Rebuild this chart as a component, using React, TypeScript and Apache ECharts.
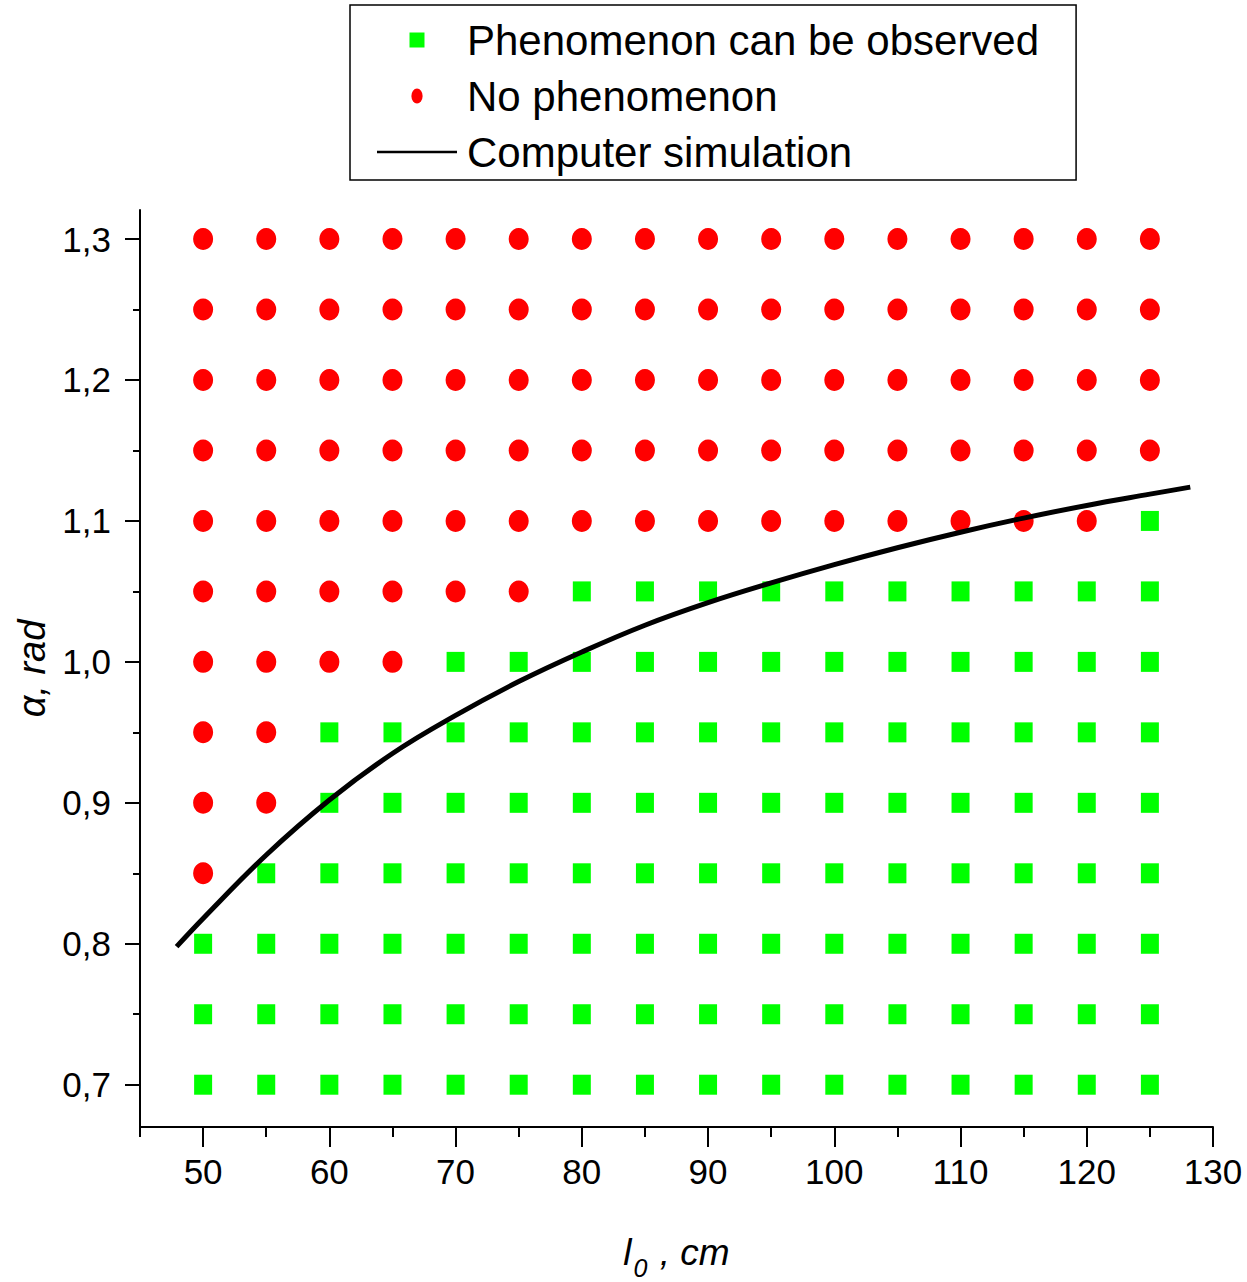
import React, { useEffect, useRef } from "react";
import * as echarts from "echarts";

// l0 values (cm) of the experimental grid
const lengthsCm = [50, 55, 60, 65, 70, 75, 80, 85, 90, 95, 100, 105, 110, 115, 120, 125];
// alpha values (rad) of the experimental grid, bottom to top
const anglesRad = [0.7, 0.75, 0.8, 0.85, 0.9, 0.95, 1.0, 1.05, 1.1, 1.15, 1.2, 1.25, 1.3];
// number of grid rows (from the bottom) where the phenomenon is observed, per column
const observedRowsPerColumn = [3, 4, 6, 6, 7, 7, 8, 8, 8, 8, 8, 8, 8, 8, 8, 9];

// computer simulation curve [l0, alpha]
const simulationCurve: [number, number][] = [
  [47.9, 0.798], [50, 0.818], [55, 0.863], [60, 0.902], [65, 0.935], [70, 0.962],
  [75, 0.986], [80, 1.007], [85, 1.026], [90, 1.042], [95, 1.056], [100, 1.069],
  [105, 1.081], [110, 1.092], [115, 1.102], [120, 1.111], [125, 1.119], [128.2, 1.124],
];

const xMajorTicks = [50, 60, 70, 80, 90, 100, 110, 120, 130];
const xMinorTicks = [45, 55, 65, 75, 85, 95, 105, 115, 125];
const yMajorTicks = [0.7, 0.8, 0.9, 1.0, 1.1, 1.2, 1.3];
const yMinorTicks = [0.75, 0.85, 0.95, 1.05, 1.15, 1.25];

const observed: [number, number][] = [];
const notObserved: [number, number][] = [];
lengthsCm.forEach((l, ci) => {
  anglesRad.forEach((a, ri) => {
    if (ri < observedRowsPerColumn[ci]) observed.push([l, a]);
    else notObserved.push([l, a]);
  });
});

const FONT = "'Liberation Sans', Arial, sans-serif";

export default function App() {
  const ref = useRef<HTMLDivElement>(null);
  useEffect(() => {
    if (!ref.current) return;
    const chart = echarts.init(ref.current, null, { renderer: "svg" });
    const axisLine = { show: true, lineStyle: { color: "#000", width: 2 } };
    chart.setOption({
      animation: false,
      backgroundColor: "#fff",
      textStyle: { fontFamily: FONT },
      grid: { left: 140, right: 34, top: 210, bottom: 155, outerBoundsMode: "none" },
      legend: {
        left: 350,
        top: 5,
        orient: "vertical",
        padding: [13, 37, 6, 27],
        itemGap: 12,
        itemWidth: 80,
        itemHeight: 15,
        borderColor: "#000",
        borderWidth: 1.5,
        textStyle: { fontSize: 42, lineHeight: 44, color: "#000", fontFamily: FONT, padding: [0, 0, 0, 5] },
        data: [
          { name: "Phenomenon can be observed", icon: "path://M0,0L10,0L10,10L0,10Z", itemStyle: { color: "#00ff00", opacity: 1 } },
          { name: "No phenomenon", icon: "path://M6,0A6,8,0,1,1,6,16A6,8,0,1,1,6,0Z", itemStyle: { color: "#ff0000", opacity: 1 } },
          { name: "Computer simulation", icon: "path://M0,0L80,0L80,2.6L0,2.6Z", itemStyle: { color: "#000", opacity: 1 } },
        ],
      },
      xAxis: [
        {
          type: "value",
          min: 45,
          max: 130,
          position: "bottom",
          axisLine,
          splitLine: { show: false },
          axisTick: { show: true, customValues: xMinorTicks, length: 10, lineStyle: { color: "#000", width: 2 } },
          axisLabel: {
            customValues: xMajorTicks,
            fontSize: 35,
            color: "#000",
            margin: 27,
            fontFamily: FONT,
            formatter: (v: number) => String(v),
          },
          name: "{i|l}{s|0}{i| , cm}",
          nameLocation: "middle",
          nameGap: 98,
          nameTextStyle: {
            rich: {
              i: { fontSize: 37, fontStyle: "italic", color: "#000", fontFamily: FONT },
              s: { fontSize: 25, fontStyle: "italic", color: "#000", fontFamily: FONT, padding: [30, 2, 0, 2] },
            },
          },
        },
        {
          type: "value",
          min: 45,
          max: 130,
          position: "bottom",
          axisLine: { show: false },
          splitLine: { show: false },
          axisTick: { show: true, customValues: xMajorTicks, length: 20, lineStyle: { color: "#000", width: 2 } },
          axisLabel: { show: false },
        },
      ],
      yAxis: [
        {
          type: "value",
          min: 0.67,
          max: 1.3206,
          position: "left",
          axisLine,
          splitLine: { show: false },
          axisTick: { show: true, customValues: yMajorTicks, length: 15, lineStyle: { color: "#000", width: 2 } },
          axisLabel: {
            customValues: yMajorTicks,
            fontSize: 35,
            color: "#000",
            margin: 29,
            fontFamily: FONT,
            formatter: (v: number) => v.toFixed(1).replace(".", ","),
          },
          name: "α, rad",
          nameLocation: "middle",
          nameRotate: 90,
          nameGap: 86,
          nameTextStyle: { fontSize: 38, fontStyle: "italic", color: "#000", fontFamily: FONT },
        },
        {
          type: "value",
          min: 0.67,
          max: 1.3206,
          position: "left",
          axisLine: { show: false },
          splitLine: { show: false },
          axisTick: { show: true, customValues: yMinorTicks, length: 7, lineStyle: { color: "#000", width: 2 } },
          axisLabel: { show: false },
        },
      ],
      series: [
        {
          name: "Phenomenon can be observed",
          type: "scatter",
          symbol: "rect",
          symbolSize: [18, 20],
          itemStyle: { color: "#00ff00", opacity: 1 },
          data: observed,
          z: 2,
        },
        {
          name: "No phenomenon",
          type: "scatter",
          symbol: "circle",
          symbolSize: [20, 22],
          itemStyle: { color: "#ff0000", opacity: 1 },
          data: notObserved,
          z: 2,
        },
        {
          name: "Computer simulation",
          type: "line",
          smooth: 0.4,
          symbol: "none",
          showSymbol: false,
          lineStyle: { color: "#000", width: 5 },
          itemStyle: { color: "#000" },
          data: simulationCurve,
          z: 3,
        },
      ],
    });
    return () => chart.dispose();
  }, []);
  return <div ref={ref} style={{ width: 1247, height: 1282, position: "absolute", left: 0, top: 0 }} />;
}
